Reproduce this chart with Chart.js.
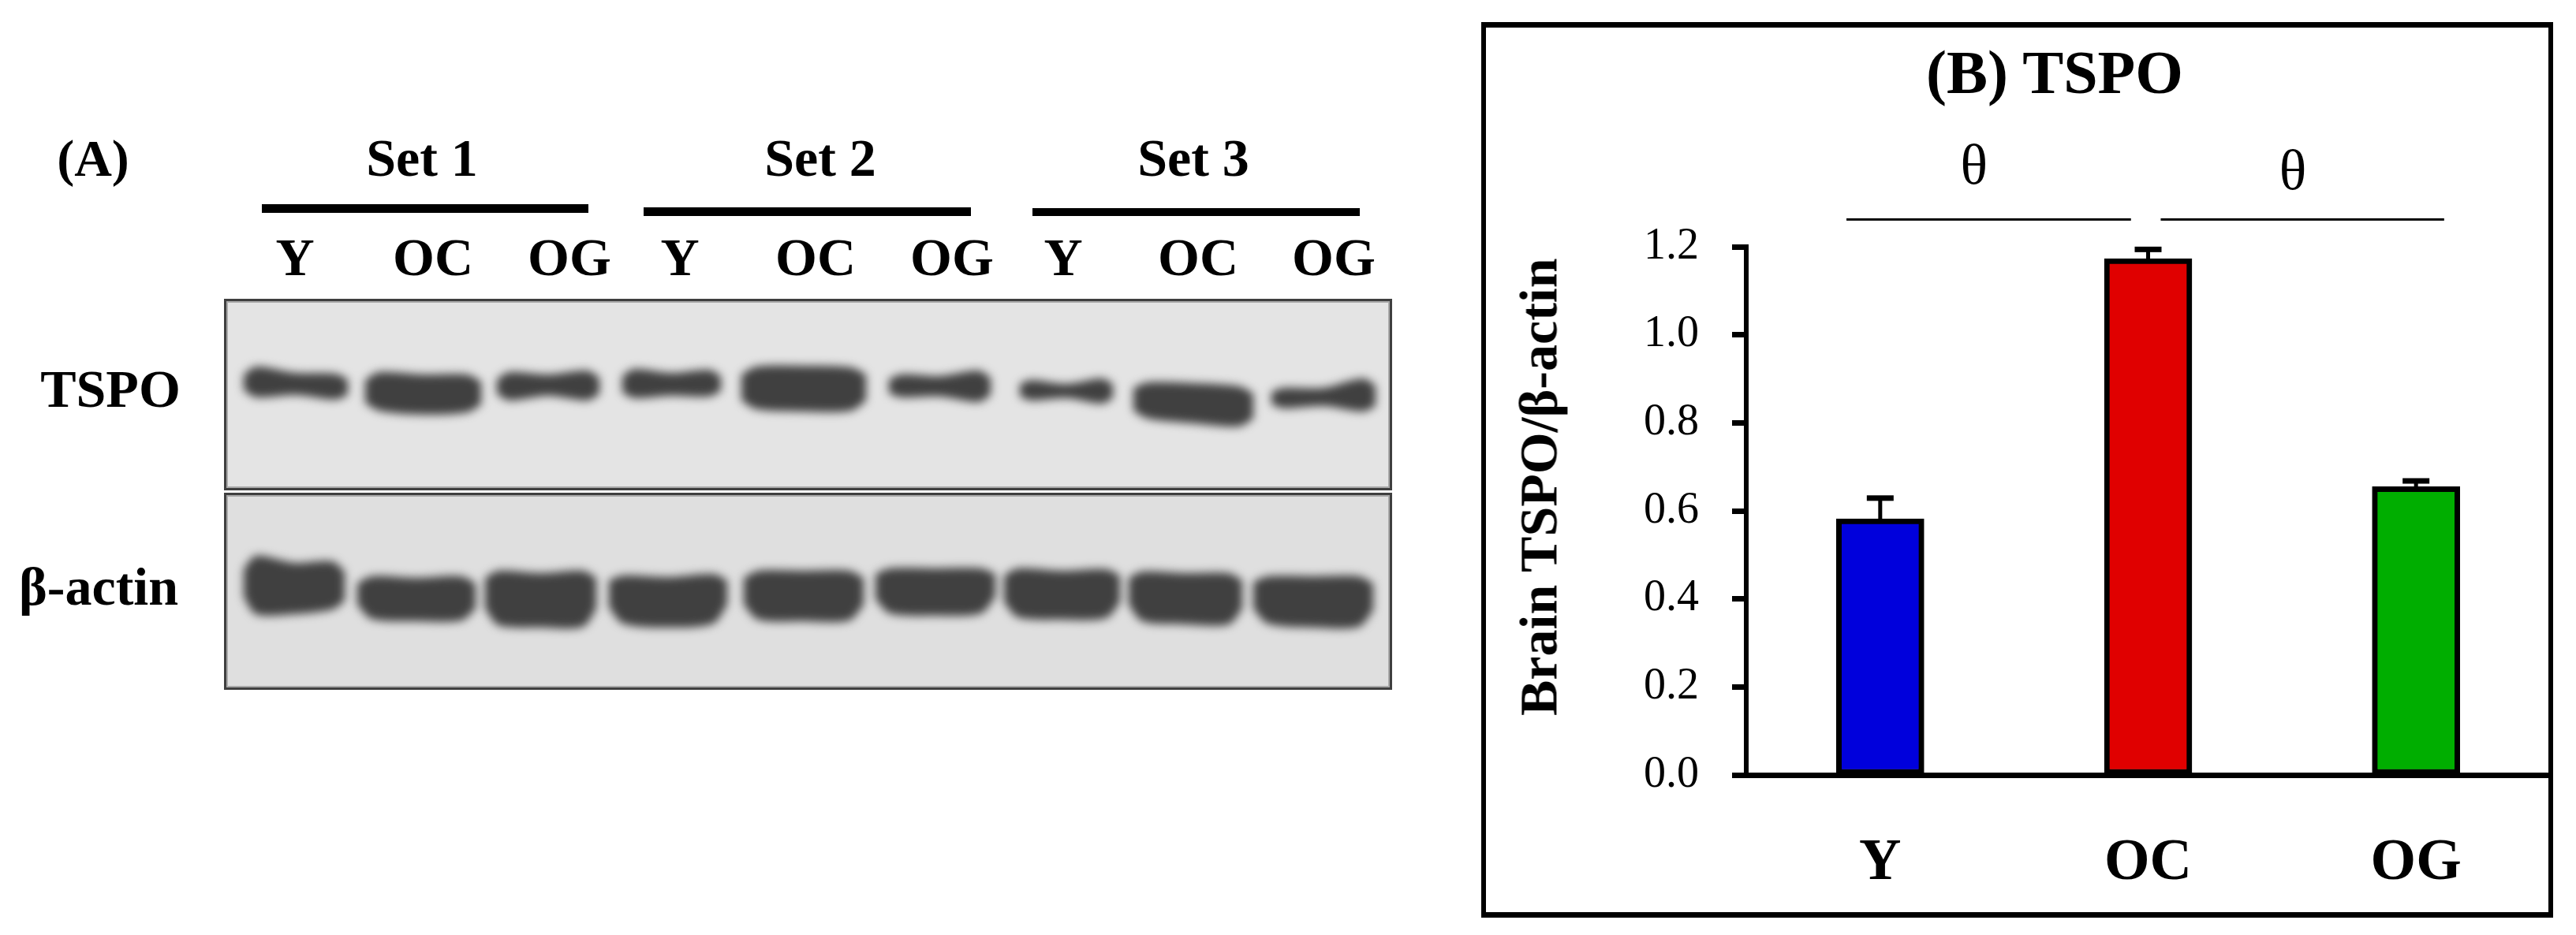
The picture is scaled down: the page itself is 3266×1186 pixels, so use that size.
<!DOCTYPE html>
<html>
<head>
<meta charset="utf-8">
<script src="https://cdn.jsdelivr.net/npm/chart.js@4"></script>
<style>
html,body{margin:0;padding:0;background:#fff;width:3266px;height:1186px;overflow:hidden}
.t{position:absolute;font-family:"Liberation Serif",serif;color:#000;white-space:nowrap;line-height:0}
.r{position:absolute;background:#000}
.panel{position:absolute;box-sizing:border-box;border:3px solid #3f3f3f;box-shadow:inset 0 0 0 2px #a9a9a9}
#gel{position:absolute;left:285px;top:380px;filter:blur(6px)}
#bars{position:absolute;left:1884px;top:35px}
#frame{position:absolute;left:1878px;top:28px;width:1359px;height:1136px;box-sizing:border-box;border:6px solid #000;border-top-width:7px;border-bottom-width:7px}
</style>
</head>
<body>
<div id="frame"></div>
<div class="panel" style="left:284px;top:379px;width:1481px;height:243px;background:#e4e4e4"></div>
<div class="panel" style="left:284px;top:625px;width:1481px;height:250px;background:#dfdfdf"></div>
<canvas id="gel" width="1478" height="494"></canvas>
<canvas id="bars" width="1349" height="1123"></canvas>
<script>
// ---------- Panel B: bar chart ----------
const categories = ["Y", "OC", "OG"];
const tspoValues = [0.582, 1.173, 0.655];
const tspoErrors = [0.047, 0.021, 0.013];
const barColors = ["#0000DC", "#E00000", "#00AE00"];
const yTicks = [0, 0.2, 0.4, 0.6, 0.8, 1.0, 1.2];
const brackets = [[-0.126, 0.936], [1.047, 2.105]];
const bracketLevel = 1.262;
const thetaMarks = [[0.35, 1.378], [1.54, 1.365]];

// ---------- Panel A: western blot ----------
const setLabels = ["Set 1", "Set 2", "Set 3"];
const laneLabels = ["Y", "OC", "OG", "Y", "OC", "OG", "Y", "OC", "OG"];
const profile = [0, 0.12, 0.5, 0.88, 1];
const tspoLeft = [309, 463, 630, 789, 940, 1127, 1293, 1437, 1612];
const tspoRight = [441, 610, 760, 914, 1098, 1256, 1411, 1589, 1744];
const tspoTop = [
  [475,465,473,474,481],[482,472,475,475,484],[481,472,475,470,479],
  [477,468,473,469,477],[475,465,464,466,475],[481,475,477,470,479],
  [487,482,487,480,487],[492,485,486,490,499],[497,492,492,480,489]];
const tspoBottom = [
  [495,504,501,507,501],[511,521,526,523,513],[500,508,502,508,500],
  [498,505,502,503,496],[508,519,522,521,508],[499,504,503,510,501],
  [503,508,505,512,505],[521,531,537,541,531],[513,518,515,522,515]];
const actinLeft = [309, 453, 615, 772, 943, 1110, 1273, 1431, 1589];
const actinRight = [437, 603, 756, 922, 1095, 1262, 1420, 1575, 1741];
const actinTop = [
  [722,705,714,712,725],[740,731,733,731,740],[733,724,727,724,733],
  [736,730,732,728,736],[733,724,724,724,733],[728,721,721,721,728],
  [730,721,724,722,730],[733,725,727,727,736],[738,731,731,731,740]];
const actinBottom = [
  [757,779,779,773,762],[767,785,788,787,772],[772,793,796,795,772],
  [770,791,796,791,767],[767,786,788,787,767],[760,778,781,778,757],
  [764,783,786,784,764],[767,788,792,792,772],[772,791,796,795,774]];

// ---------- text helpers (baseline-placed real text) ----------
function text(str, cx, baseline, size, weight) {
  const d = document.createElement('div');
  d.className = 't';
  d.textContent = str;
  d.style.left = cx + 'px';
  d.style.top = (baseline - 0.3375 * size) + 'px';
  d.style.fontSize = size + 'px';
  d.style.fontWeight = weight;
  d.style.transform = 'translateX(-50%)';
  document.body.appendChild(d);
  return d;
}
function rule(x0, x1, y0, y1) {
  const d = document.createElement('div');
  d.className = 'r';
  d.style.cssText = `left:${x0}px;top:${y0}px;width:${x1-x0}px;height:${y1-y0}px`;
  document.body.appendChild(d);
}
text("(A)", 118, 223, 66, 'bold');
[535, 1040, 1513].forEach((cx, i) => text(setLabels[i], cx, 223, 68, 'bold'));
rule(332, 746, 259, 270); rule(816, 1231, 263, 274); rule(1309, 1724, 264, 274);
[374, 549, 722, 862, 1034, 1207, 1348, 1519, 1691].forEach((cx, i) => text(laneLabels[i], cx, 349, 68, 'bold'));
text("TSPO", 140, 516, 68, 'bold');
text("β-actin", 125, 767, 68, 'bold');
text("(B) TSPO", 2605, 118, 78, 'bold');
const yTitle = text("Brain TSPO/β-actin", 1972, 0, 68, 'bold');
yTitle.style.transformOrigin = '0 0';
yTitle.style.left = '1972px';
yTitle.style.top = '908px';
yTitle.style.lineHeight = 'normal';
yTitle.style.transform = 'rotate(-90deg) translateY(-0.891em)';

// ---------- blot bands ----------
function bandDatasets(left, right, top, bottom) {
  const out = [];
  left.forEach((x0, i) => {
    const xs = profile.map(f => x0 + f * (right[i] - x0));
    out.push({ data: xs.map((x, k) => ({ x, y: top[i][k] })), fill: '+1', backgroundColor: '#404040',
      borderWidth: 0, pointRadius: 0, tension: 0.3 });
    out.push({ data: xs.map((x, k) => ({ x, y: bottom[i][k] })), fill: false,
      borderWidth: 0, pointRadius: 0, tension: 0.3 });
  });
  return out;
}
new Chart(document.getElementById('gel'), {
  type: 'line',
  data: { datasets: [...bandDatasets(tspoLeft, tspoRight, tspoTop, tspoBottom),
                     ...bandDatasets(actinLeft, actinRight, actinTop, actinBottom)] },
  options: {
    responsive: false, animation: false,
    plugins: { legend: { display: false }, tooltip: { enabled: false } },
    layout: { padding: 0 },
    scales: {
      x: { type: 'linear', min: 285, max: 1763, display: false },
      y: { type: 'linear', min: 380, max: 874, reverse: true, display: false }
    }
  }
});

// ---------- bar chart overlays ----------
const overlay = {
  id: 'overlay',
  afterDatasetsDraw(chart) {
    const { ctx, scales: { x, y } } = chart;
    ctx.save();
    ctx.fillStyle = '#000';
    tspoValues.forEach((v, i) => {
      const cx = x.getPixelForValue(i);
      const y0 = y.getPixelForValue(v);
      const y1 = y.getPixelForValue(v + tspoErrors[i]);
      ctx.fillRect(cx - 2.5, y1, 5, y0 - y1);
      ctx.fillRect(cx - 17, y1 - 3.5, 34, 7);
    });
    const ly = y.getPixelForValue(bracketLevel);
    brackets.forEach(b => {
      const a = x.getPixelForValue(b[0]), c = x.getPixelForValue(b[1]);
      ctx.fillRect(a, ly - 1.5, c - a, 3);
    });
    ctx.font = '72px "Liberation Serif"';
    ctx.textAlign = 'center';
    ctx.textBaseline = 'middle';
    thetaMarks.forEach(m => ctx.fillText('θ', x.getPixelForValue(m[0]), y.getPixelForValue(m[1])));
    ctx.restore();
  }
};
new Chart(document.getElementById('bars'), {
  type: 'bar',
  data: {
    labels: categories,
    datasets: [{ data: tspoValues, backgroundColor: barColors, borderColor: '#000', borderWidth: 7,
      borderSkipped: false, barThickness: 111 }]
  },
  plugins: [overlay],
  options: {
    responsive: false, animation: false,
    layout: { padding: { top: 278, left: 0, right: 0, bottom: 0 } },
    plugins: { legend: { display: false }, tooltip: { enabled: false }, title: { display: false } },
    scales: {
      x: {
        grid: { display: false },
        border: { display: true, color: '#000', width: 7 },
        ticks: { color: '#000', padding: 60, autoSkip: false, maxRotation: 0,
          font: { family: '"Liberation Serif"', size: 74, weight: 'bold' } },
        afterFit(s) { s.height = 175; }
      },
      y: {
        min: 0, max: 1.2,
        grid: { drawOnChartArea: false, drawTicks: true, tickLength: 18, tickWidth: 7, tickColor: '#000' },
        border: { display: true, color: '#000', width: 6 },
        afterBuildTicks(s) { s.ticks = yTicks.map(value => ({ value })); },
        ticks: { color: '#000', padding: 42, autoSkip: false,
          callback: v => Number(v).toFixed(1),
          font: { family: '"Liberation Serif"', size: 56 } },
        afterFit(s) { s.width = 330; }
      }
    }
  }
});
</script>
</body>
</html>
